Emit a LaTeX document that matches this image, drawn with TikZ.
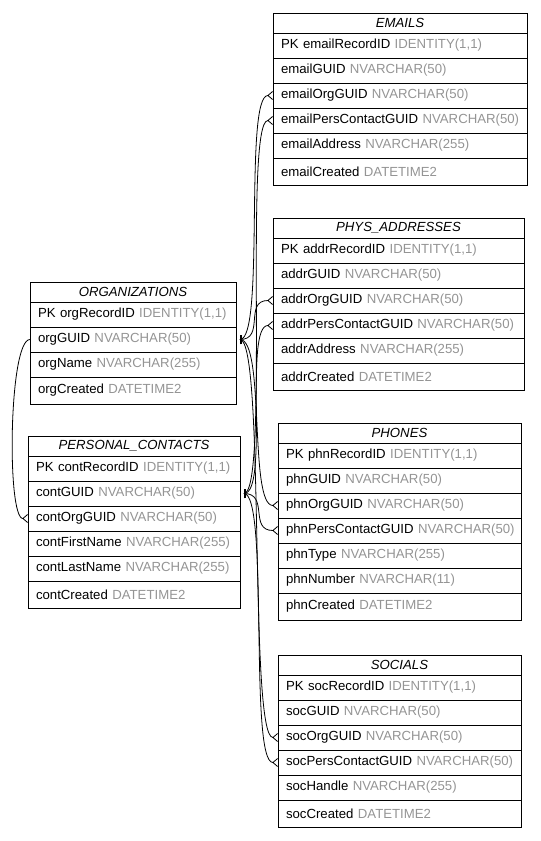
\documentclass[tikz,border=0pt]{standalone}
\usepackage{fontspec}
\setmainfont{Liberation Sans}
\usetikzlibrary{arrows.meta,positioning}

\newcommand{\ty}[1]{\textcolor{black!42}{#1}}
\newcommand{\fl}[2]{\mbox{#1 \ty{#2}}}

\begin{document}
\begin{tikzpicture}[
    x=0.75pt, y=-0.75pt,
    every node/.style={font=\fontsize{9.9}{11}\selectfont, line width=0.6pt, outer sep=0pt},
    ttl/.style={rectangle, draw=black, anchor=north west, text width=#1, align=center,
                minimum height=15pt, inner xsep=6pt, inner ysep=0pt,
                font=\fontsize{9.9}{11}\selectfont\itshape},
    fld/.style={rectangle, draw=black, text width=#1, align=left,
                minimum height=18.75pt, inner xsep=6pt, inner ysep=0pt},
    lastfld/.style={fld=#1, minimum height=20.25pt},
    link/.style={line width=0.6pt,
                 {Bar[width=0pt,length=0pt,sep=2.5pt]Bar[width=7pt,line width=1.3pt]}-{Straight Barb[reversed, length=3.5pt, width=6pt]}}
]
\useasboundingbox (0,0) rectangle (540,841);

% EMAILS
\node[ttl=178.5pt] (emails) at (273,13) {EMAILS};
\node[fld=178.5pt, below=0pt of emails] (emailsPK) {\fl{PK emailRecordID}{IDENTITY(1,1)}};
\node[fld=178.5pt, below=0pt of emailsPK] (emailsGUID) {\fl{emailGUID}{NVARCHAR(50)}};
\node[fld=178.5pt, below=0pt of emailsGUID] (emailsOrg) {\fl{emailOrgGUID}{NVARCHAR(50)}};
\node[fld=178.5pt, below=0pt of emailsOrg] (emailsPers) {\fl{emailPersContactGUID}{NVARCHAR(50)}};
\node[fld=178.5pt, below=0pt of emailsPers] (emailsAddr) {\fl{emailAddress}{NVARCHAR(255)}};
\node[lastfld=178.5pt, below=0pt of emailsAddr] (emailsCreated) {\fl{emailCreated}{DATETIME2}};

% PHYS_ADDRESSES
\node[ttl=176.25pt] (addrs) at (273,218) {PHYS\_ADDRESSES};
\node[fld=176.25pt, below=0pt of addrs] (addrsPK) {\fl{PK addrRecordID}{IDENTITY(1,1)}};
\node[fld=176.25pt, below=0pt of addrsPK] (addrsGUID) {\fl{addrGUID}{NVARCHAR(50)}};
\node[fld=176.25pt, below=0pt of addrsGUID] (addrsOrg) {\fl{addrOrgGUID}{NVARCHAR(50)}};
\node[fld=176.25pt, below=0pt of addrsOrg] (addrsPers) {\fl{addrPersContactGUID}{NVARCHAR(50)}};
\node[fld=176.25pt, below=0pt of addrsPers] (addrsAddr) {\fl{addrAddress}{NVARCHAR(255)}};
\node[lastfld=176.25pt, below=0pt of addrsAddr] (addrsCreated) {\fl{addrCreated}{DATETIME2}};

% ORGANIZATIONS
\node[ttl=142.5pt] (orgs) at (30,282) {ORGANIZATIONS};
\node[fld=142.5pt, below=0pt of orgs] (orgsPK) {\fl{PK orgRecordID}{IDENTITY(1,1)}};
\node[fld=142.5pt, below=0pt of orgsPK] (orgsGUID) {\fl{orgGUID}{NVARCHAR(50)}};
\node[fld=142.5pt, below=0pt of orgsGUID] (orgsName) {\fl{orgName}{NVARCHAR(255)}};
\node[lastfld=142.5pt, below=0pt of orgsName] (orgsCreated) {\fl{orgCreated}{DATETIME2}};

% PERSONAL_CONTACTS
\node[ttl=147pt] (pers) at (28,436) {PERSONAL\_CONTACTS};
\node[fld=147pt, below=0pt of pers] (persPK) {\fl{PK contRecordID}{IDENTITY(1,1)}};
\node[fld=147pt, below=0pt of persPK] (persGUID) {\fl{contGUID}{NVARCHAR(50)}};
\node[fld=147pt, below=0pt of persGUID] (persOrg) {\fl{contOrgGUID}{NVARCHAR(50)}};
\node[fld=147pt, below=0pt of persOrg] (persFirst) {\fl{contFirstName}{NVARCHAR(255)}};
\node[fld=147pt, below=0pt of persFirst] (persLast) {\fl{contLastName}{NVARCHAR(255)}};
\node[lastfld=147pt, below=0pt of persLast] (persCreated) {\fl{contCreated}{DATETIME2}};

% PHONES
\node[ttl=170.25pt] (phones) at (278,423) {PHONES};
\node[fld=170.25pt, below=0pt of phones] (phonesPK) {\fl{PK phnRecordID}{IDENTITY(1,1)}};
\node[fld=170.25pt, below=0pt of phonesPK] (phonesGUID) {\fl{phnGUID}{NVARCHAR(50)}};
\node[fld=170.25pt, below=0pt of phonesGUID] (phonesOrg) {\fl{phnOrgGUID}{NVARCHAR(50)}};
\node[fld=170.25pt, below=0pt of phonesOrg] (phonesPers) {\fl{phnPersContactGUID}{NVARCHAR(50)}};
\node[fld=170.25pt, below=0pt of phonesPers] (phonesType) {\fl{phnType}{NVARCHAR(255)}};
\node[fld=170.25pt, below=0pt of phonesType] (phonesNum) {\fl{phnNumber}{NVARCHAR(11)}};
\node[lastfld=170.25pt, below=0pt of phonesNum] (phonesCreated) {\fl{phnCreated}{DATETIME2}};

% SOCIALS
\node[ttl=170.25pt] (socials) at (278,655) {SOCIALS};
\node[fld=170.25pt, below=0pt of socials] (socialsPK) {\fl{PK socRecordID}{IDENTITY(1,1)}};
\node[fld=170.25pt, below=0pt of socialsPK] (socialsGUID) {\fl{socGUID}{NVARCHAR(50)}};
\node[fld=170.25pt, below=0pt of socialsGUID] (socialsOrg) {\fl{socOrgGUID}{NVARCHAR(50)}};
\node[fld=170.25pt, below=0pt of socialsOrg] (socialsPers) {\fl{socPersContactGUID}{NVARCHAR(50)}};
\node[fld=170.25pt, below=0pt of socialsPers] (socialsHandle) {\fl{socHandle}{NVARCHAR(255)}};
\node[lastfld=170.25pt, below=0pt of socialsHandle] (socialsCreated) {\fl{socCreated}{DATETIME2}};

% relations
\foreach \t in {emails,addrs,phones,socials} {
  \draw[link] (orgsGUID.east) to[out=0, in=180, distance=22pt] (\t Org.west);
  \draw[link] (persGUID.east) to[out=0, in=180, distance=22pt] (\t Pers.west);
}
\draw[line width=0.6pt, -{Straight Barb[reversed, length=3.5pt, width=6pt]}]
  (orgsGUID.west) to[out=180, in=180, distance=16pt] (persOrg.west);
\end{tikzpicture}
\end{document}
